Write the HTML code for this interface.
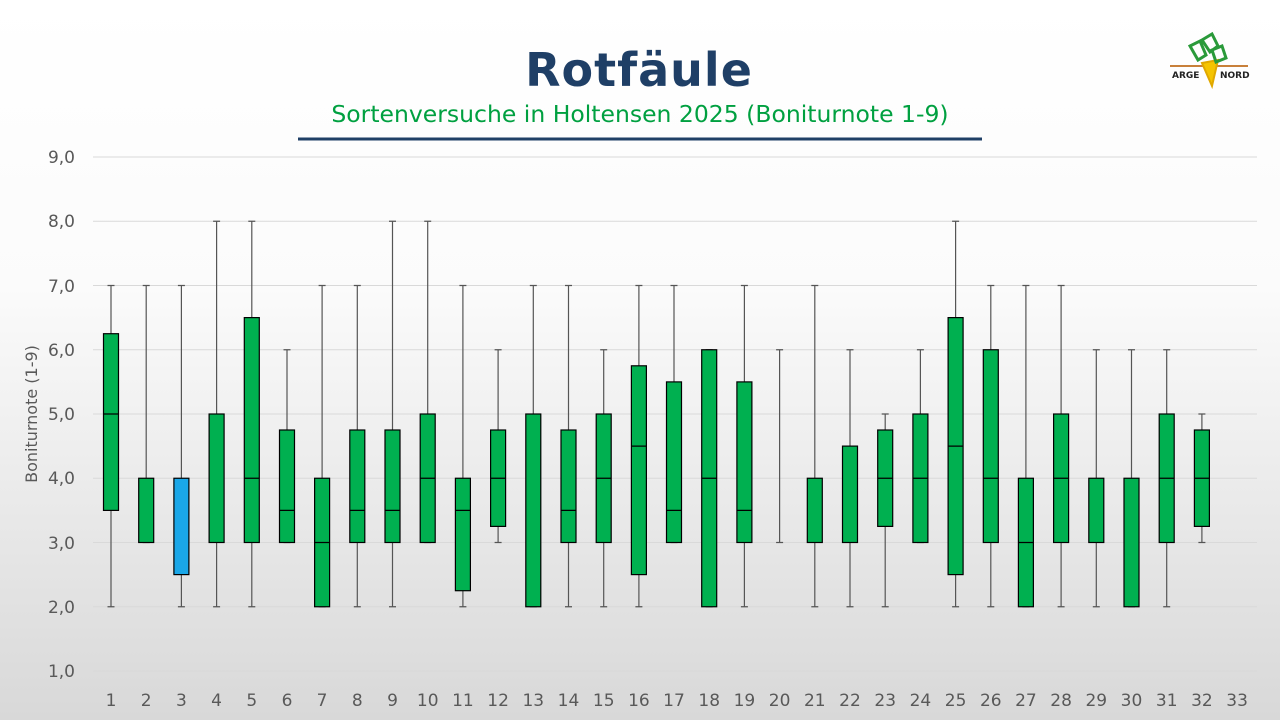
<!DOCTYPE html>
<html><head><meta charset="utf-8"><style>
html,body{margin:0;padding:0;}
body{width:1280px;height:720px;overflow:hidden;background:linear-gradient(#ffffff 0%,#fbfbfb 40%,#d8d8d8 100%);font-family:"DejaVu Sans","Liberation Sans",sans-serif;}
</style></head><body>
<svg width="1280" height="720" viewBox="0 0 1280 720" xmlns="http://www.w3.org/2000/svg">
<text x="639" y="86" text-anchor="middle" font-family="DejaVu Sans,Liberation Sans,sans-serif" font-weight="bold" font-size="46" fill="#1f3f66" letter-spacing="1">Rotfäule</text>
<text x="640" y="122" text-anchor="middle" font-family="DejaVu Sans,Liberation Sans,sans-serif" font-size="23.5" fill="#00a040">Sortenversuche in Holtensen 2025 (Boniturnote 1-9)</text>
<rect x="298" y="137.5" width="684" height="3" fill="#1f3f66"/>
<g>
<line x1="1170" y1="66" x2="1248" y2="66" stroke="#c8803a" stroke-width="2"/>
<path d="M1202 63 L1218 60 L1212 86 Z" fill="#f5c400" stroke="#e0a800" stroke-width="2"/>
<path d="M1190 46 L1200 41 L1206 55 L1198 60 Z M1202 40 L1212 34 L1218 46 L1210 52 Z M1212 50 L1222 46 L1226 58 L1216 62 Z" fill="none" stroke="#2a9a3a" stroke-width="3"/>
<text x="1172" y="78" font-family="DejaVu Sans,sans-serif" font-weight="bold" font-size="9" fill="#222">ARGE</text>
<text x="1220" y="78" font-family="DejaVu Sans,sans-serif" font-weight="bold" font-size="9" fill="#222">NORD</text>
</g>
<g stroke="#d9d9d9" stroke-width="1">
<line x1="93" x2="1257" y1="157" y2="157"/><line x1="93" x2="1257" y1="221.25" y2="221.25"/><line x1="93" x2="1257" y1="285.5" y2="285.5"/><line x1="93" x2="1257" y1="349.75" y2="349.75"/><line x1="93" x2="1257" y1="414" y2="414"/><line x1="93" x2="1257" y1="478.25" y2="478.25"/><line x1="93" x2="1257" y1="542.5" y2="542.5"/><line x1="93" x2="1257" y1="606.75" y2="606.75"/><line x1="93" x2="1257" y1="671" y2="671"/>
</g>
<g font-size="17" fill="#595959" text-anchor="end" font-family="DejaVu Sans,Liberation Sans,sans-serif">
<text x="75" y="163">9,0</text><text x="75" y="227">8,0</text><text x="75" y="292">7,0</text><text x="75" y="356">6,0</text><text x="75" y="420">5,0</text><text x="75" y="484">4,0</text><text x="75" y="549">3,0</text><text x="75" y="613">2,0</text><text x="75" y="677">1,0</text>
</g>
<text transform="translate(37,414) rotate(-90)" text-anchor="middle" font-size="16" fill="#595959">Boniturnote (1-9)</text>
<g font-size="17" fill="#595959" text-anchor="middle">
<text x="111" y="706">1</text><text x="146.2" y="706">2</text><text x="181.4" y="706">3</text><text x="216.6" y="706">4</text><text x="251.8" y="706">5</text><text x="287" y="706">6</text><text x="322.1" y="706">7</text><text x="357.3" y="706">8</text><text x="392.5" y="706">9</text><text x="427.7" y="706">10</text><text x="462.9" y="706">11</text><text x="498.1" y="706">12</text><text x="533.3" y="706">13</text><text x="568.5" y="706">14</text><text x="603.7" y="706">15</text><text x="638.9" y="706">16</text><text x="674" y="706">17</text><text x="709.2" y="706">18</text><text x="744.4" y="706">19</text><text x="779.6" y="706">20</text><text x="814.8" y="706">21</text><text x="850" y="706">22</text><text x="885.2" y="706">23</text><text x="920.4" y="706">24</text><text x="955.6" y="706">25</text><text x="990.8" y="706">26</text><text x="1025.9" y="706">27</text><text x="1061.1" y="706">28</text><text x="1096.3" y="706">29</text><text x="1131.5" y="706">30</text><text x="1166.7" y="706">31</text><text x="1201.9" y="706">32</text><text x="1237.1" y="706">33</text>
</g>
<g stroke="#555" stroke-width="1.2" fill="none">
<path d="M111 285.5V606.75M107.5 285.5H114.5M107.5 606.75H114.5
M146.2 285.5V542.5M142.7 285.5H149.7M142.7 542.5H149.7
M181.4 285.5V606.75M177.9 285.5H184.9M177.9 606.75H184.9
M216.6 221.25V606.75M213.1 221.25H220.1M213.1 606.75H220.1
M251.8 221.25V606.75M248.3 221.25H255.3M248.3 606.75H255.3
M287 349.75V542.5M283.5 349.75H290.5M283.5 542.5H290.5
M322.1 285.5V606.75M318.6 285.5H325.6M318.6 606.75H325.6
M357.3 285.5V606.75M353.8 285.5H360.8M353.8 606.75H360.8
M392.5 221.25V606.75M389 221.25H396M389 606.75H396
M427.7 221.25V542.5M424.2 221.25H431.2M424.2 542.5H431.2
M462.9 285.5V606.75M459.4 285.5H466.4M459.4 606.75H466.4
M498.1 349.75V542.5M494.6 349.75H501.6M494.6 542.5H501.6
M533.3 285.5V606.75M529.8 285.5H536.8M529.8 606.75H536.8
M568.5 285.5V606.75M565 285.5H572M565 606.75H572
M603.7 349.75V606.75M600.2 349.75H607.2M600.2 606.75H607.2
M638.9 285.5V606.75M635.4 285.5H642.4M635.4 606.75H642.4
M674 285.5V542.5M670.5 285.5H677.5M670.5 542.5H677.5
M709.2 349.75V606.75M705.7 349.75H712.7M705.7 606.75H712.7
M744.4 285.5V606.75M740.9 285.5H747.9M740.9 606.75H747.9
M779.6 349.75V542.5M776.1 349.75H783.1M776.1 542.5H783.1
M814.8 285.5V606.75M811.3 285.5H818.3M811.3 606.75H818.3
M850 349.75V606.75M846.5 349.75H853.5M846.5 606.75H853.5
M885.2 414V606.75M881.7 414H888.7M881.7 606.75H888.7
M920.4 349.75V542.5M916.9 349.75H923.9M916.9 542.5H923.9
M955.6 221.25V606.75M952.1 221.25H959.1M952.1 606.75H959.1
M990.8 285.5V606.75M987.3 285.5H994.3M987.3 606.75H994.3
M1025.9 285.5V606.75M1022.4 285.5H1029.4M1022.4 606.75H1029.4
M1061.1 285.5V606.75M1057.6 285.5H1064.6M1057.6 606.75H1064.6
M1096.3 349.75V606.75M1092.8 349.75H1099.8M1092.8 606.75H1099.8
M1131.5 349.75V606.75M1128 349.75H1135M1128 606.75H1135
M1166.7 349.75V606.75M1163.2 349.75H1170.2M1163.2 606.75H1170.2
M1201.9 414V542.5M1198.4 414H1205.4M1198.4 542.5H1205.4"/>
</g>
<g stroke="#000" stroke-width="1.2" fill="#00b050">
<rect x="103.5" y="333.7" width="15" height="176.7"/>
<rect x="138.7" y="478.25" width="15" height="64.25"/>
<rect x="173.9" y="478.25" width="15" height="96.35" fill="#1aa7e8"/>
<rect x="209.1" y="414" width="15" height="128.5"/>
<rect x="244.3" y="317.6" width="15" height="224.9"/>
<rect x="279.5" y="430" width="15" height="112.5"/>
<rect x="314.6" y="478.25" width="15" height="128.5"/>
<rect x="349.8" y="430" width="15" height="112.5"/>
<rect x="385" y="430" width="15" height="112.5"/>
<rect x="420.2" y="414" width="15" height="128.5"/>
<rect x="455.4" y="478.25" width="15" height="112.45"/>
<rect x="490.6" y="430" width="15" height="96.4"/>
<rect x="525.8" y="414" width="15" height="192.75"/>
<rect x="561" y="430" width="15" height="112.5"/>
<rect x="596.2" y="414" width="15" height="128.5"/>
<rect x="631.4" y="365.8" width="15" height="208.8"/>
<rect x="666.5" y="381.9" width="15" height="160.6"/>
<rect x="701.7" y="349.75" width="15" height="257"/>
<rect x="736.9" y="381.9" width="15" height="160.6"/>
<rect x="807.3" y="478.25" width="15" height="64.25"/>
<rect x="842.5" y="446.1" width="15" height="96.4"/>
<rect x="877.7" y="430" width="15" height="96.4"/>
<rect x="912.9" y="414" width="15" height="128.5"/>
<rect x="948.1" y="317.6" width="15" height="257"/>
<rect x="983.3" y="349.75" width="15" height="192.75"/>
<rect x="1018.4" y="478.25" width="15" height="128.5"/>
<rect x="1053.6" y="414" width="15" height="128.5"/>
<rect x="1088.8" y="478.25" width="15" height="64.25"/>
<rect x="1124" y="478.25" width="15" height="128.5"/>
<rect x="1159.2" y="414" width="15" height="128.5"/>
<rect x="1194.4" y="430" width="15" height="96.4"/>
</g>
<g stroke="#000" stroke-width="1.2">
<path d="M103.5 414H118.5M244.3 478.25H259.3M279.5 510.4H294.5M314.6 542.5H329.6M349.8 510.4H364.8M385 510.4H400M420.2 478.25H435.2M455.4 510.4H470.4M490.6 478.25H505.6M561 510.4H576M596.2 478.25H611.2M631.4 446.1H646.4M666.5 510.4H681.5M701.7 478.25H716.7M736.9 510.4H751.9M877.7 478.25H892.7M912.9 478.25H927.9M948.1 446.1H963.1M983.3 478.25H998.3M1018.4 542.5H1033.4M1053.6 478.25H1068.6M1159.2 478.25H1174.2M1194.4 478.25H1209.4"/>
</g>
</svg>
</body></html>
